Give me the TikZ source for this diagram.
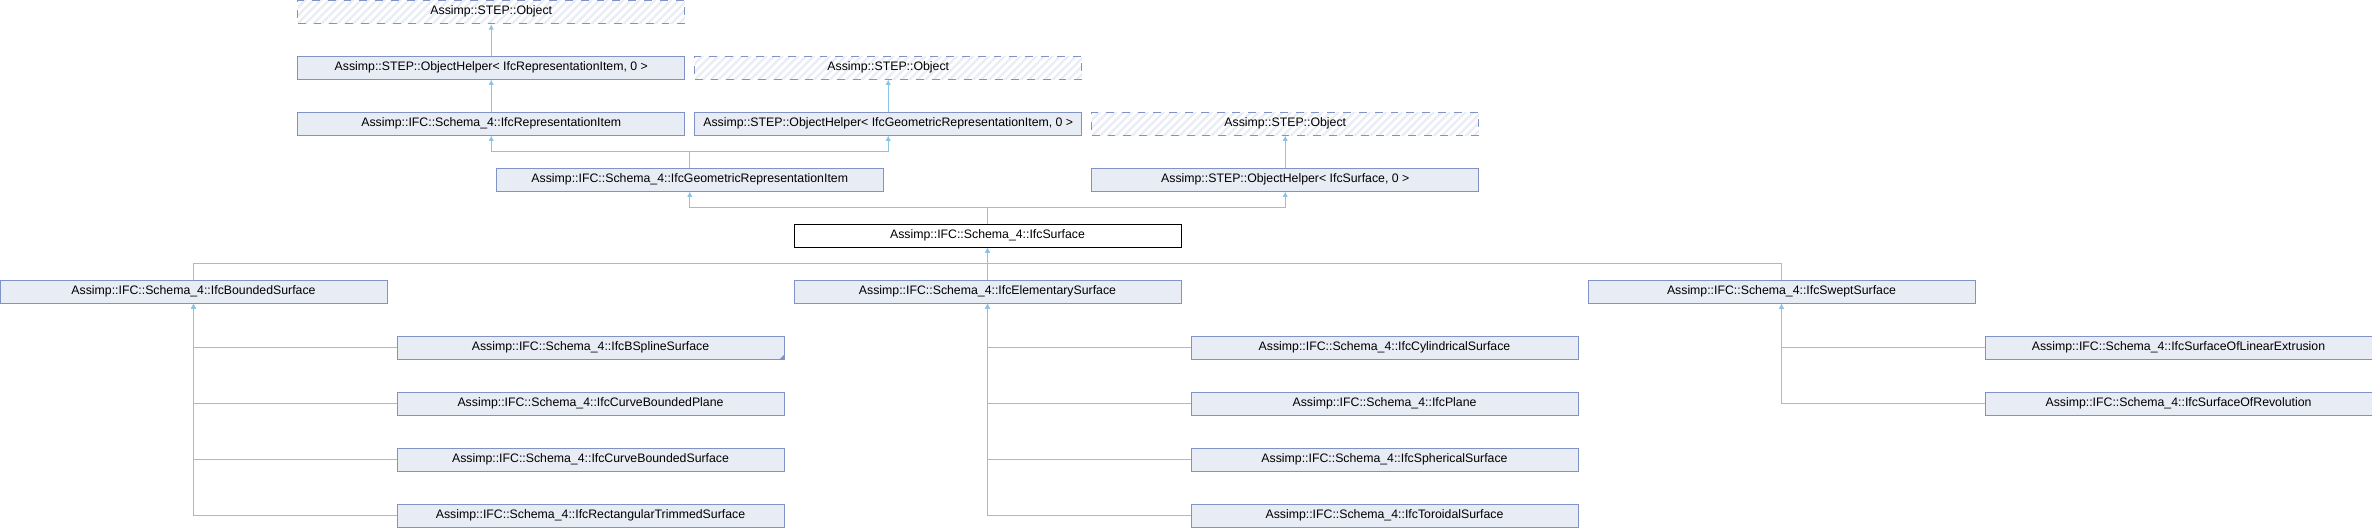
\documentclass[tikz,border=0pt]{standalone}
\usepackage{fontspec}
\setmainfont{Liberation Sans}
\usetikzlibrary{arrows.meta,patterns.meta}

\definecolor{boxfill}{RGB}{232,236,244}
\definecolor{boxline}{RGB}{128,146,198}
\definecolor{edgecol}{RGB}{138,196,230}
\definecolor{hatchcol}{RGB}{234,237,246}

\begin{document}
\begin{tikzpicture}[
    cls/.style={rectangle, draw=boxline, fill=boxfill, line width=0.55pt,
        minimum width=7.74cm, minimum height=0.46cm, inner sep=0pt,
        font=\fontsize{7}{8}\selectfont},
    ghost/.style={cls, fill=none, dash pattern=on 4.5pt off 4.5pt,
        pattern={Lines[angle=45,distance=3.2pt,line width=1.4pt]}, pattern color=hatchcol},
    current/.style={cls, draw=black, fill=white},
    edge/.style={draw=edgecol, line width=0.55pt, -{Latex[length=3pt,width=3pt]}}
]
\useasboundingbox (0,0) rectangle (47.44,-10.56);

% Base classes
\node[ghost] (O1) at (9.825,-0.23) {Assimp::STEP::Object};
\node[cls] (H1) at (9.825,-1.35) {Assimp::STEP::ObjectHelper< IfcRepresentationItem, 0 >};
\node[ghost] (O2) at (17.765,-1.35) {Assimp::STEP::Object};
\node[cls] (R1) at (9.825,-2.47) {Assimp::IFC::Schema\_4::IfcRepresentationItem};
\node[cls] (H2) at (17.765,-2.47) {Assimp::STEP::ObjectHelper< IfcGeometricRepresentationItem, 0 >};
\node[ghost] (O3) at (25.705,-2.47) {Assimp::STEP::Object};
\node[cls] (G1) at (13.795,-3.59) {Assimp::IFC::Schema\_4::IfcGeometricRepresentationItem};
\node[cls] (H3) at (25.705,-3.59) {Assimp::STEP::ObjectHelper< IfcSurface, 0 >};

% This class
\node[current] (S) at (19.75,-4.71) {Assimp::IFC::Schema\_4::IfcSurface};

% Direct subclasses
\node[cls] (SB) at (3.87,-5.83) {Assimp::IFC::Schema\_4::IfcBoundedSurface};
\node[cls] (SE) at (19.75,-5.83) {Assimp::IFC::Schema\_4::IfcElementarySurface};
\node[cls] (SS) at (35.63,-5.83) {Assimp::IFC::Schema\_4::IfcSweptSurface};

% Leaf classes
\foreach \t [count=\i] in {IfcBSplineSurface,IfcCurveBoundedPlane,IfcCurveBoundedSurface,IfcRectangularTrimmedSurface} {
    \node[cls] (B\i) at (11.81,-5.83-1.12*\i) {Assimp::IFC::Schema\_4::\t};
}
\foreach \t [count=\i] in {IfcCylindricalSurface,IfcPlane,IfcSphericalSurface,IfcToroidalSurface} {
    \node[cls] (E\i) at (27.69,-5.83-1.12*\i) {Assimp::IFC::Schema\_4::\t};
}
\foreach \t [count=\i] in {IfcSurfaceOfLinearExtrusion,IfcSurfaceOfRevolution} {
    \node[cls] (W\i) at (43.57,-5.83-1.12*\i) {Assimp::IFC::Schema\_4::\t};
}
\fill[boxline] (B1.south east) -- ++(-0.1,0) -- ++(0.1,0.1) -- cycle;

% Connections
\draw[edge] (H1.north) -- (O1.south);
\draw[edge] (R1.north) -- (H1.south);
\draw[edge] (H2.north) -- (O2.south);
\draw[edge] (H3.north) -- (O3.south);
\draw[edge] (G1.north) -- ++(0,0.32) -| (R1.south);
\draw[edge] (G1.north) -- ++(0,0.32) -| (H2.south);
\draw[edge] (S.north) -- ++(0,0.32) -| (G1.south);
\draw[edge] (S.north) -- ++(0,0.32) -| (H3.south);
\foreach \p in {SB,SE,SS} {
    \draw[edge] (\p.north) -- ++(0,0.32) -| (S.south);
}
\foreach \i in {1,...,4} {
    \draw[edge] (B\i.west) -| (SB.south);
    \draw[edge] (E\i.west) -| (SE.south);
}
\foreach \i in {1,2} {
    \draw[edge] (W\i.west) -| (SS.south);
}
\end{tikzpicture}
\end{document}
